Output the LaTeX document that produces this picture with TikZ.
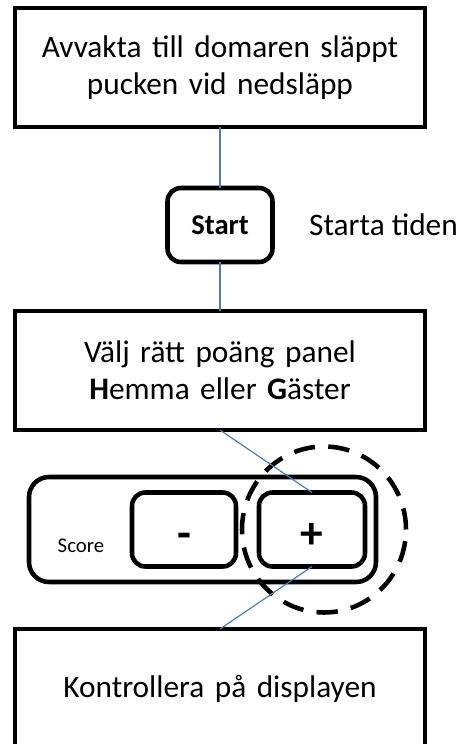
\documentclass[tikz,border=0pt]{standalone}
\usepackage{fontspec}
\setmainfont{Carlito}
\usetikzlibrary{positioning}
\usetikzlibrary{shapes.geometric}
\definecolor{linjeblue}{RGB}{74,126,187}
\tikzset{
	ruta/.style={
		rectangle,
		draw=black, line width=3.4pt,
		text width=300pt,
		minimum width=307.5pt,
		minimum height=89.25pt,
		text centered,
		outer sep=0pt,
		font=\fontsize{23.5}{28}\selectfont},
	knapp/.style={
		rectangle,
		rounded corners=10pt,
		draw=black, line width=3.4pt,
		minimum height=55.5pt,
		text height=28pt, text depth=0pt,
		inner sep=0pt, outer sep=0pt,
		font=\bfseries\fontsize{34}{34}\selectfont},
	panel/.style={
		rectangle,
		rounded corners=15pt,
		draw=black, line width=3.4pt,
		minimum width=260.25pt,
		minimum height=78.75pt,
		outer sep=0pt},
	ring/.style={
		ellipse,
		draw=black, line width=3.4pt,
		dash pattern=on 16pt off 10pt,
		minimum width=123pt,
		minimum height=124.5pt,
		inner sep=0pt},
	line/.style={draw, line width=0.9pt, linjeblue},
}

\begin{document}
\begin{tikzpicture}[x=0.75pt, y=-0.75pt]
		\useasboundingbox (0,0) rectangle (466,744);
		\node[ruta] (ett) at (220,67.5) {Avvakta till domaren släppt\\pucken vid nedsläpp};
		\node[knapp, minimum width=78.75pt, text height=, text depth=,
		font=\bfseries\fontsize{21.5}{21.5}\selectfont, below=45.75pt of ett] (start) {Start};
		\node[right=24pt of start, font=\fontsize{23.5}{28}\selectfont] (tiden) {Starta tiden};
		\node[ruta, below=36.75pt of start] (tva) {Välj rätt poäng panel\\\textbf{H}emma eller \textbf{G}äster};
		\node[panel, below=35.25pt of tva, xshift=-13.125pt] (panel) {};
		\node[right=18pt of panel.west, yshift=-12.4pt, 
		font=\fontsize{15.6}{15.6}\selectfont] (score) {Score};
		\node[knapp, minimum width=78pt, right=77.25pt of panel.west] (minus) {-};
		\node[knapp, minimum width=79.5pt, right=17.25pt of minus] (plus) {+};
		\node[ring, xshift=9pt] (ring) at (plus) {};
		\node[ruta, below=35.25pt of panel, xshift=13.125pt] (fyra) {Kontrollera på displayen};
	
		\path[line] (ett) -- (start);
		\path[line] (start) -- (tva);
		\path[line] (tva.south) -- (plus.north);
		\path[line] (plus.south) -- (fyra.north);
		\end{tikzpicture}
\end{document}
